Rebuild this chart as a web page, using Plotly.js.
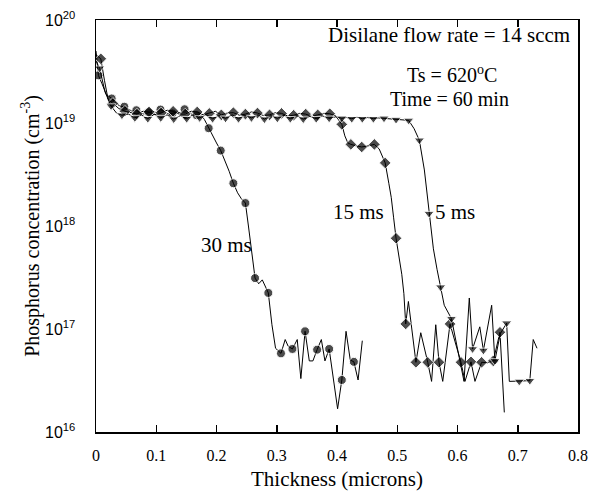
<!DOCTYPE html>
<html>
<head>
<meta charset="utf-8">
<script src="https://cdn.plot.ly/plotly-3.0.1.min.js"></script>
<style>html,body{margin:0;padding:0;background:#fff;}#chart{width:590px;height:500px;}</style>
</head>
<body>
<div id="chart"></div>
<script>
// ---- 30 ms series (circles) ----
var x30 = [0.000,0.004,0.010,0.017,0.026,0.033,0.040,0.047,0.054,0.060,0.067,0.074,0.080,0.087,0.094,0.100,0.107,0.114,0.120,0.127,0.134,0.140,0.147,0.154,0.160,0.167,0.174,0.180,0.187,0.194,0.200,0.207,0.214,0.221,0.228,0.235,0.241,0.248,0.253,0.258,0.264,0.270,0.276,0.286,0.292,0.298,0.307,0.314,0.319,0.326,0.334,0.340,0.347,0.354,0.360,0.367,0.374,0.380,0.387,0.401,0.408,0.415,0.422,0.428,0.435,0.442];
var y30 = [5.0e19,2.9e19,2.4e19,1.9e19,1.73e19,1.55e19,1.46e19,1.44e19,1.36e19,1.30e19,1.33e19,1.25e19,1.22e19,1.27e19,1.30e19,1.26e19,1.35e19,1.30e19,1.22e19,1.24e19,1.28e19,1.25e19,1.36e19,1.28e19,1.20e19,1.19e19,1.20e19,1.08e19,8.9e18,7.6e18,6.4e18,5.4e18,4.3e18,3.4e18,2.6e18,2.1e18,1.85e18,1.67e18,1.0e18,5.5e17,3.12e17,2.75e17,3.0e17,2.24e17,1.1e17,6.5e16,5.8e16,7.9e16,6.8e16,6.4e16,7.9e16,3.3e16,9.5e16,4.9e16,4.9e16,6.3e16,7.9e16,4.9e16,6.4e16,1.68e16,3.2e16,9.5e16,5.0e16,4.8e16,3.2e16,7.7e16];
var m30 = [0,1,0,0,1,0,0,1,0,0,1,0,0,1,0,0,1,0,0,1,0,0,1,0,0,1,0,0,1,0,0,1,0,0,1,0,0,1,0,0,1,0,0,1,0,0,1,0,0,1,0,0,1,0,0,1,0,0,1,0,1,0,0,1,0,0];

// ---- 15 ms series (diamonds) ----
var x15 = [0.000,0.008,0.014,0.020,0.028,0.038,0.048,0.058,0.068,0.078,0.088,0.098,0.108,0.118,0.128,0.138,0.148,0.158,0.168,0.178,0.188,0.198,0.208,0.218,0.228,0.238,0.248,0.258,0.268,0.278,0.288,0.298,0.308,0.318,0.328,0.338,0.348,0.358,0.368,0.378,0.388,0.398,0.408,0.413,0.418,0.423,0.432,0.441,0.452,0.462,0.470,0.475,0.480,0.486,0.490,0.494,0.498,0.5075,0.511,0.514,0.5185,0.531,0.539,0.5506,0.557,0.5639,0.5693,0.5755,0.5876,0.596,0.6058,0.6124,0.6224,0.629,0.640,0.650,0.6594,0.6705,0.6777];
var y15 = [4.6e19,4.2e19,2.6e19,1.7e19,1.55e19,1.38e19,1.30e19,1.25e19,1.22e19,1.30e19,1.28e19,1.20e19,1.25e19,1.33e19,1.30e19,1.22e19,1.22e19,1.30e19,1.28e19,1.20e19,1.24e19,1.30e19,1.20e19,1.25e19,1.26e19,1.19e19,1.22e19,1.28e19,1.25e19,1.18e19,1.20e19,1.26e19,1.24e19,1.17e19,1.19e19,1.24e19,1.22e19,1.16e19,1.20e19,1.24e19,1.23e19,1.17e19,9.7e18,7.5e18,6.4e18,6.2e18,6.0e18,5.85e18,6.0e18,6.2e18,5.6e18,4.8e18,4.1e18,2.6e18,1.9e18,1.2e18,7.6e17,3.4e17,2.2e17,1.12e17,1.85e17,4.75e16,9.2e16,4.75e16,3.1e16,1.1e17,4.75e16,3.1e16,1.12e17,7.5e16,4.75e16,3.1e16,4.8e16,3.1e16,4.75e16,4.7e16,4.9e16,9.3e16,1.55e16];
var m15 = [0,1,0,0,1,0,1,0,1,0,1,0,1,0,1,0,1,0,1,0,1,0,1,0,1,0,1,0,1,0,1,0,1,0,1,0,1,0,1,0,1,0,1,0,0,1,0,1,0,1,0,0,1,0,0,0,1,0,0,1,0,1,0,1,0,0,1,0,1,0,1,0,1,0,1,0,1,1,0];

// ---- 5 ms series (down triangles) ----
var x5 = [0.000,0.006,0.015,0.025,0.034,0.043,0.054,0.0645,0.075,0.086,0.097,0.1075,0.118,0.129,0.140,0.1505,0.161,0.172,0.183,0.1935,0.204,0.215,0.226,0.2365,0.247,0.258,0.269,0.2795,0.290,0.301,0.312,0.3225,0.333,0.344,0.355,0.3655,0.376,0.387,0.398,0.408,0.416,0.4245,0.433,0.442,0.451,0.4604,0.469,0.478,0.488,0.498,0.509,0.519,0.528,0.5367,0.545,0.5527,0.560,0.566,0.572,0.578,0.590,0.600,0.6108,0.6196,0.625,0.637,0.643,0.6567,0.662,0.671,0.6816,0.686,0.7025,0.720,0.7257,0.732];
var y5 = [4.0e19,3.4e19,2.0e19,1.46e19,1.25e19,1.19e19,1.22e19,1.12e19,1.20e19,1.10e19,1.22e19,1.12e19,1.20e19,1.09e19,1.18e19,1.10e19,1.20e19,1.12e19,1.21e19,1.10e19,1.18e19,1.11e19,1.20e19,1.10e19,1.19e19,1.12e19,1.20e19,1.09e19,1.18e19,1.11e19,1.19e19,1.10e19,1.18e19,1.09e19,1.16e19,1.10e19,1.17e19,1.11e19,1.15e19,1.11e19,1.13e19,1.10e19,1.14e19,1.10e19,1.13e19,1.10e19,1.12e19,1.11e19,1.09e19,1.08e19,1.07e19,1.06e19,8.8e18,6.8e18,3.5e18,1.32e18,6.0e17,3.8e17,2.55e17,1.7e17,1.26e17,6.5e16,3.1e16,2.0e17,6.4e16,1.05e17,6.2e16,1.7e17,4.9e16,9.0e16,1.14e17,3.1e16,3.1e16,3.15e16,7.9e16,6.5e16];
var m5 = [0,1,0,1,0,1,0,1,0,1,0,1,0,1,0,1,0,1,0,1,0,1,0,1,0,1,0,1,0,1,0,1,0,1,0,1,0,1,0,1,0,1,0,1,0,1,0,1,0,1,0,1,0,1,0,1,0,0,1,0,1,0,0,0,1,0,1,0,1,0,1,0,1,1,0,0];

// ---- axis ticks ----
var xTicks = [0,0.1,0.2,0.3,0.4,0.5,0.6,0.7,0.8];
var xTickText = ['0','0.1','0.2','0.3','0.4','0.5','0.6','0.7','0.8'];
var yTicks = [1e16,1e17,1e18,1e19,1e20];
var yTickText = ['10<sup>16</sup>','10<sup>17</sup>','10<sup>18</sup>','10<sup>19</sup>','10<sup>20</sup>'];

function series(x, y, m, sym, sz) {
  return {
    x: x, y: y, type: 'scatter', mode: 'lines+markers', showlegend: false,
    line: {color: '#000', width: 1},
    marker: {symbol: sym, color: '#000', size: m.map(function (f) { return f ? sz : 0; })}
  };
}

var data = [
  series(x30, y30, m30, 'circle', 9),
  series(x15, y15, m15, 'diamond', 9),
  series(x5, y5, m5, 'triangle-down', 9)
];

var serif = 'Liberation Serif, Times New Roman, serif';
var sans = 'Liberation Sans, Arial, sans-serif';

function ann(text, x, y, xa, sz) {
  return {text: text, xref: 'paper', yref: 'paper', x: x, y: y, xanchor: xa || 'center', yanchor: 'middle',
          showarrow: false, borderpad: 0, font: {family: serif, size: sz || 21, color: '#000'}};
}

var layout = {
  width: 590, height: 500,
  margin: {l: 96, r: 12, t: 20, b: 68},
  paper_bgcolor: '#fff', plot_bgcolor: '#fff',
  showlegend: false,
  xaxis: {
    range: [0, 0.8], tickmode: 'array', tickvals: xTicks, ticktext: xTickText,
    ticks: 'inside', ticklen: 7, tickwidth: 1.5, tickcolor: '#000',
    showline: true, linecolor: '#000', linewidth: 1.5, mirror: 'ticks',
    showgrid: false, zeroline: false, ticklabelstandoff: 8,
    tickfont: {family: serif, size: 16, color: '#000'},
    title: {text: 'Thickness (microns)', font: {family: serif, size: 21, color: '#000'}, standoff: 8}
  },
  // labelled y axis: invisible outside ticks only used to space the labels from the frame
  yaxis: {
    type: 'log', range: [16, 20], tickmode: 'array', tickvals: yTicks, ticktext: yTickText,
    ticks: 'outside', ticklen: 16, tickwidth: 1, tickcolor: 'rgba(0,0,0,0)',
    showline: true, linecolor: '#000', linewidth: 1.5, mirror: true,
    showgrid: false, zeroline: false,
    tickfont: {family: sans, size: 16, color: '#000'},
    title: {text: 'Phosphorus concentration (cm<sup>-3</sup>)', font: {family: serif, size: 20, color: '#000'}, standoff: 0}
  },
  // overlay y axis drawing the inward ticks on both sides
  yaxis2: {
    type: 'log', range: [16, 20], overlaying: 'y', side: 'left', anchor: 'x',
    tickmode: 'array', tickvals: yTicks, showticklabels: false,
    ticks: 'inside', ticklen: 8, tickwidth: 1.5, tickcolor: '#000',
    showline: true, linecolor: '#000', linewidth: 1.5, mirror: 'ticks',
    showgrid: false, zeroline: false
  },
  annotations: [
    ann('Disilane flow rate = 14 sccm', 0.985, 0.9636, 'right'),
    ann('Ts = 620<sup>o</sup>C', 0.7376, 0.870, 'center', 20),
    ann('Time = 60 min', 0.7334, 0.808, 'center', 20),
    ann('30 ms', 0.2712, 0.454),
    ann('15 ms', 0.5456, 0.534),
    ann('5 ms', 0.7458, 0.534)
  ]
};

Plotly.newPlot('chart', data, layout, {displayModeBar: false, staticPlot: true});
</script>
</body>
</html>
